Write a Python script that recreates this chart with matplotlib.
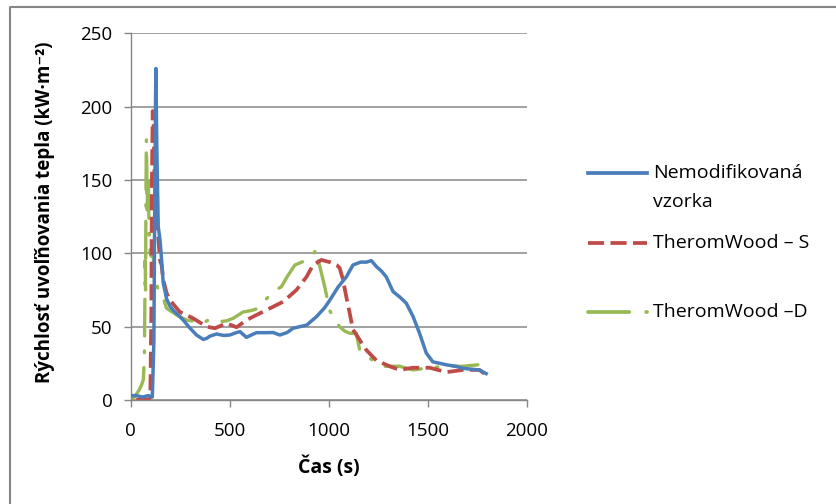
import numpy as np
import matplotlib.pyplot as plt
from matplotlib.lines import Line2D

plt.rcParams['font.family'] = ['Open Sans', 'DejaVu Sans']

# Nemodifikovaná vzorka
t_nemod = [0, 30, 60, 90, 110, 118, 122, 126, 128, 133, 140, 149, 157, 165, 182, 199, 216, 240, 266, 300,
           333, 367, 384, 400, 434, 470, 501, 535, 552, 585, 620, 636, 686, 720, 753, 790, 820, 854, 888, 938,
           980, 1005, 1047, 1089, 1122, 1160, 1190, 1215, 1240, 1265, 1290, 1324, 1360, 1391, 1425, 1458, 1492,
           1525, 1560, 1593, 1640, 1677, 1720, 1760, 1794]
v_nemod = [3, 3, 2, 3, 2, 40, 130, 200, 226, 170, 118, 109, 95, 80, 69, 64, 61, 58, 54.5, 49,
           44.3, 41.3, 42, 43.5, 45, 44, 44.3, 46, 46.6, 42.7, 45, 45.9, 45.9, 46, 44.3, 46, 48.9, 50, 51, 56.8,
           63, 68, 77, 84, 92, 94, 94, 95, 91, 88, 84, 74, 70, 66, 57, 45.5, 32,
           26, 25, 24, 23, 21.6, 21, 20.5, 18]

# TheromWood - S
t_s = [30, 60, 90, 100, 105, 108, 112, 116, 120, 123, 130, 140, 149, 157, 165, 182, 199, 249, 316, 384,
       426, 484, 535, 585, 636, 703, 770, 837, 888, 921, 963, 1005, 1040, 1055, 1072, 1089, 1106, 1122,
       1156, 1190, 1240, 1307, 1357, 1425, 1509, 1593, 1677, 1760, 1785]
v_s = [0, 1, 0, 2, 60, 150, 197, 190, 160, 145, 125, 111, 95, 92, 82, 73, 68, 60, 55.7, 50,
       48.9, 52.3, 49.6, 54.5, 58, 62.5, 67, 75, 84, 92, 95.5, 94, 92, 90, 82, 70, 59, 48,
       41, 34, 27, 23, 20.5, 22, 22, 19, 20.5, 20.5, 18]

# TheromWood - D
t_d = [0, 20, 40, 55, 65, 70, 72, 74, 76, 78, 80, 82, 84, 86, 88, 90, 93, 96, 100, 105, 110, 118, 125,
       140, 157, 182, 210, 233, 260, 283, 333, 360, 392, 420, 451, 485, 518, 568, 610, 644, 686, 728, 760,
       790, 829, 888, 915, 938, 945, 955, 980, 1005, 1030, 1055, 1080, 1106, 1139, 1156, 1190, 1223, 1273,
       1357, 1425, 1509, 1593, 1677, 1752]
v_d = [0, 2, 6, 10, 14, 30, 60, 95, 75, 140, 178, 160, 125, 148, 135, 150, 120, 105, 100, 98, 103, 92, 82,
       75, 73, 62.5, 60, 58, 56, 54.5, 53.4, 52, 54.5, 53, 53.4, 54, 55.7, 60, 61, 62.5, 69, 75, 77,
       84, 92, 95.4, 98, 103, 96, 91, 77, 61, 54.5, 50, 47, 45.5, 45.5, 34, 30, 27, 23,
       23, 20.5, 22, 23, 23, 24]

labels = ['Nemodifikovaná\nvzorka', 'TheromWood – S', 'TheromWood –D']
colors = ['#4A7EBB', '#BE4B48', '#98B954']
x_ticks = [0, 500, 1000, 1500, 2000]
y_ticks = [0, 50, 100, 150, 200, 250]

W, H = 836, 504
fig = plt.figure(figsize=(W / 100, H / 100), dpi=100)
ax = fig.add_axes([130.5 / W, 1 - 400 / H, (527 - 130.5) / W, (400 - 33.3) / H])

gray = '#868686'
ax.plot(t_nemod, v_nemod, color=colors[0], lw=2.5, solid_joinstyle='round', zorder=3)
ax.plot(t_s, v_s, color=colors[1], lw=2.7, linestyle=(0, (4.3, 1.7)), zorder=2)
ax.plot(t_d, v_d, color=colors[2], lw=2.4, linestyle=(0, (11, 4.5, 0.5, 4.5)),
        dash_capstyle='round', zorder=1)

ax.set_xlim(0, 2000)
ax.set_ylim(0, 250)
ax.set_xticks(x_ticks)
ax.set_yticks(y_ticks)
ax.yaxis.grid(True, color=gray, lw=1.1)
ax.set_axisbelow(True)
for s in ['top', 'right']:
    ax.spines[s].set_visible(False)
for s in ['left', 'bottom']:
    ax.spines[s].set_color(gray)
    ax.spines[s].set_linewidth(1.0)
ax.tick_params(axis='both', direction='out', length=5, width=1.0, color=gray, labelsize=13.5, labelcolor='black')
ax.tick_params(axis='y', pad=8)
ax.tick_params(axis='x', pad=11)

fig.text(328.8 / W, 1 - 467 / H, 'Čas (s)', ha='center', va='center', fontsize=14, fontweight='bold')
fig.text(45 / W, 1 - 212 / H, 'Rýchlosť uvoľňovania tepla (kW·m⁻²)', rotation=90,
         ha='center', va='center', fontsize=13.5, fontweight='bold')

# legend
leg_y = [173, 243, 312]
line_styles = ['-', (0, (4.3, 1.7)), (0, (11, 4.5, 0.5, 4.5))]
for i in range(3):
    fig.add_artist(Line2D([588 / W, 647 / W], [1 - leg_y[i] / H] * 2, color=colors[i], lw=2.7,
                          linestyle=line_styles[i], dash_capstyle='round' if i == 2 else 'butt'))
fig.text(653 / W, 1 - 173 / H, 'Nemodifikovaná', va='center', fontsize=14)
fig.text(653 / W, 1 - 202 / H, 'vzorka', va='center', fontsize=14)
fig.text(653 / W, 1 - 243 / H, labels[1], va='center', fontsize=14)
fig.text(653 / W, 1 - 312 / H, labels[2], va='center', fontsize=14)

# chart border (only top and left visible)
fig.add_artist(Line2D([10 / W, 10 / W, 1.0], [0.0, 1 - 7 / H, 1 - 7 / H], color=gray, lw=1.5))

fig.savefig('out.png', dpi=100)
